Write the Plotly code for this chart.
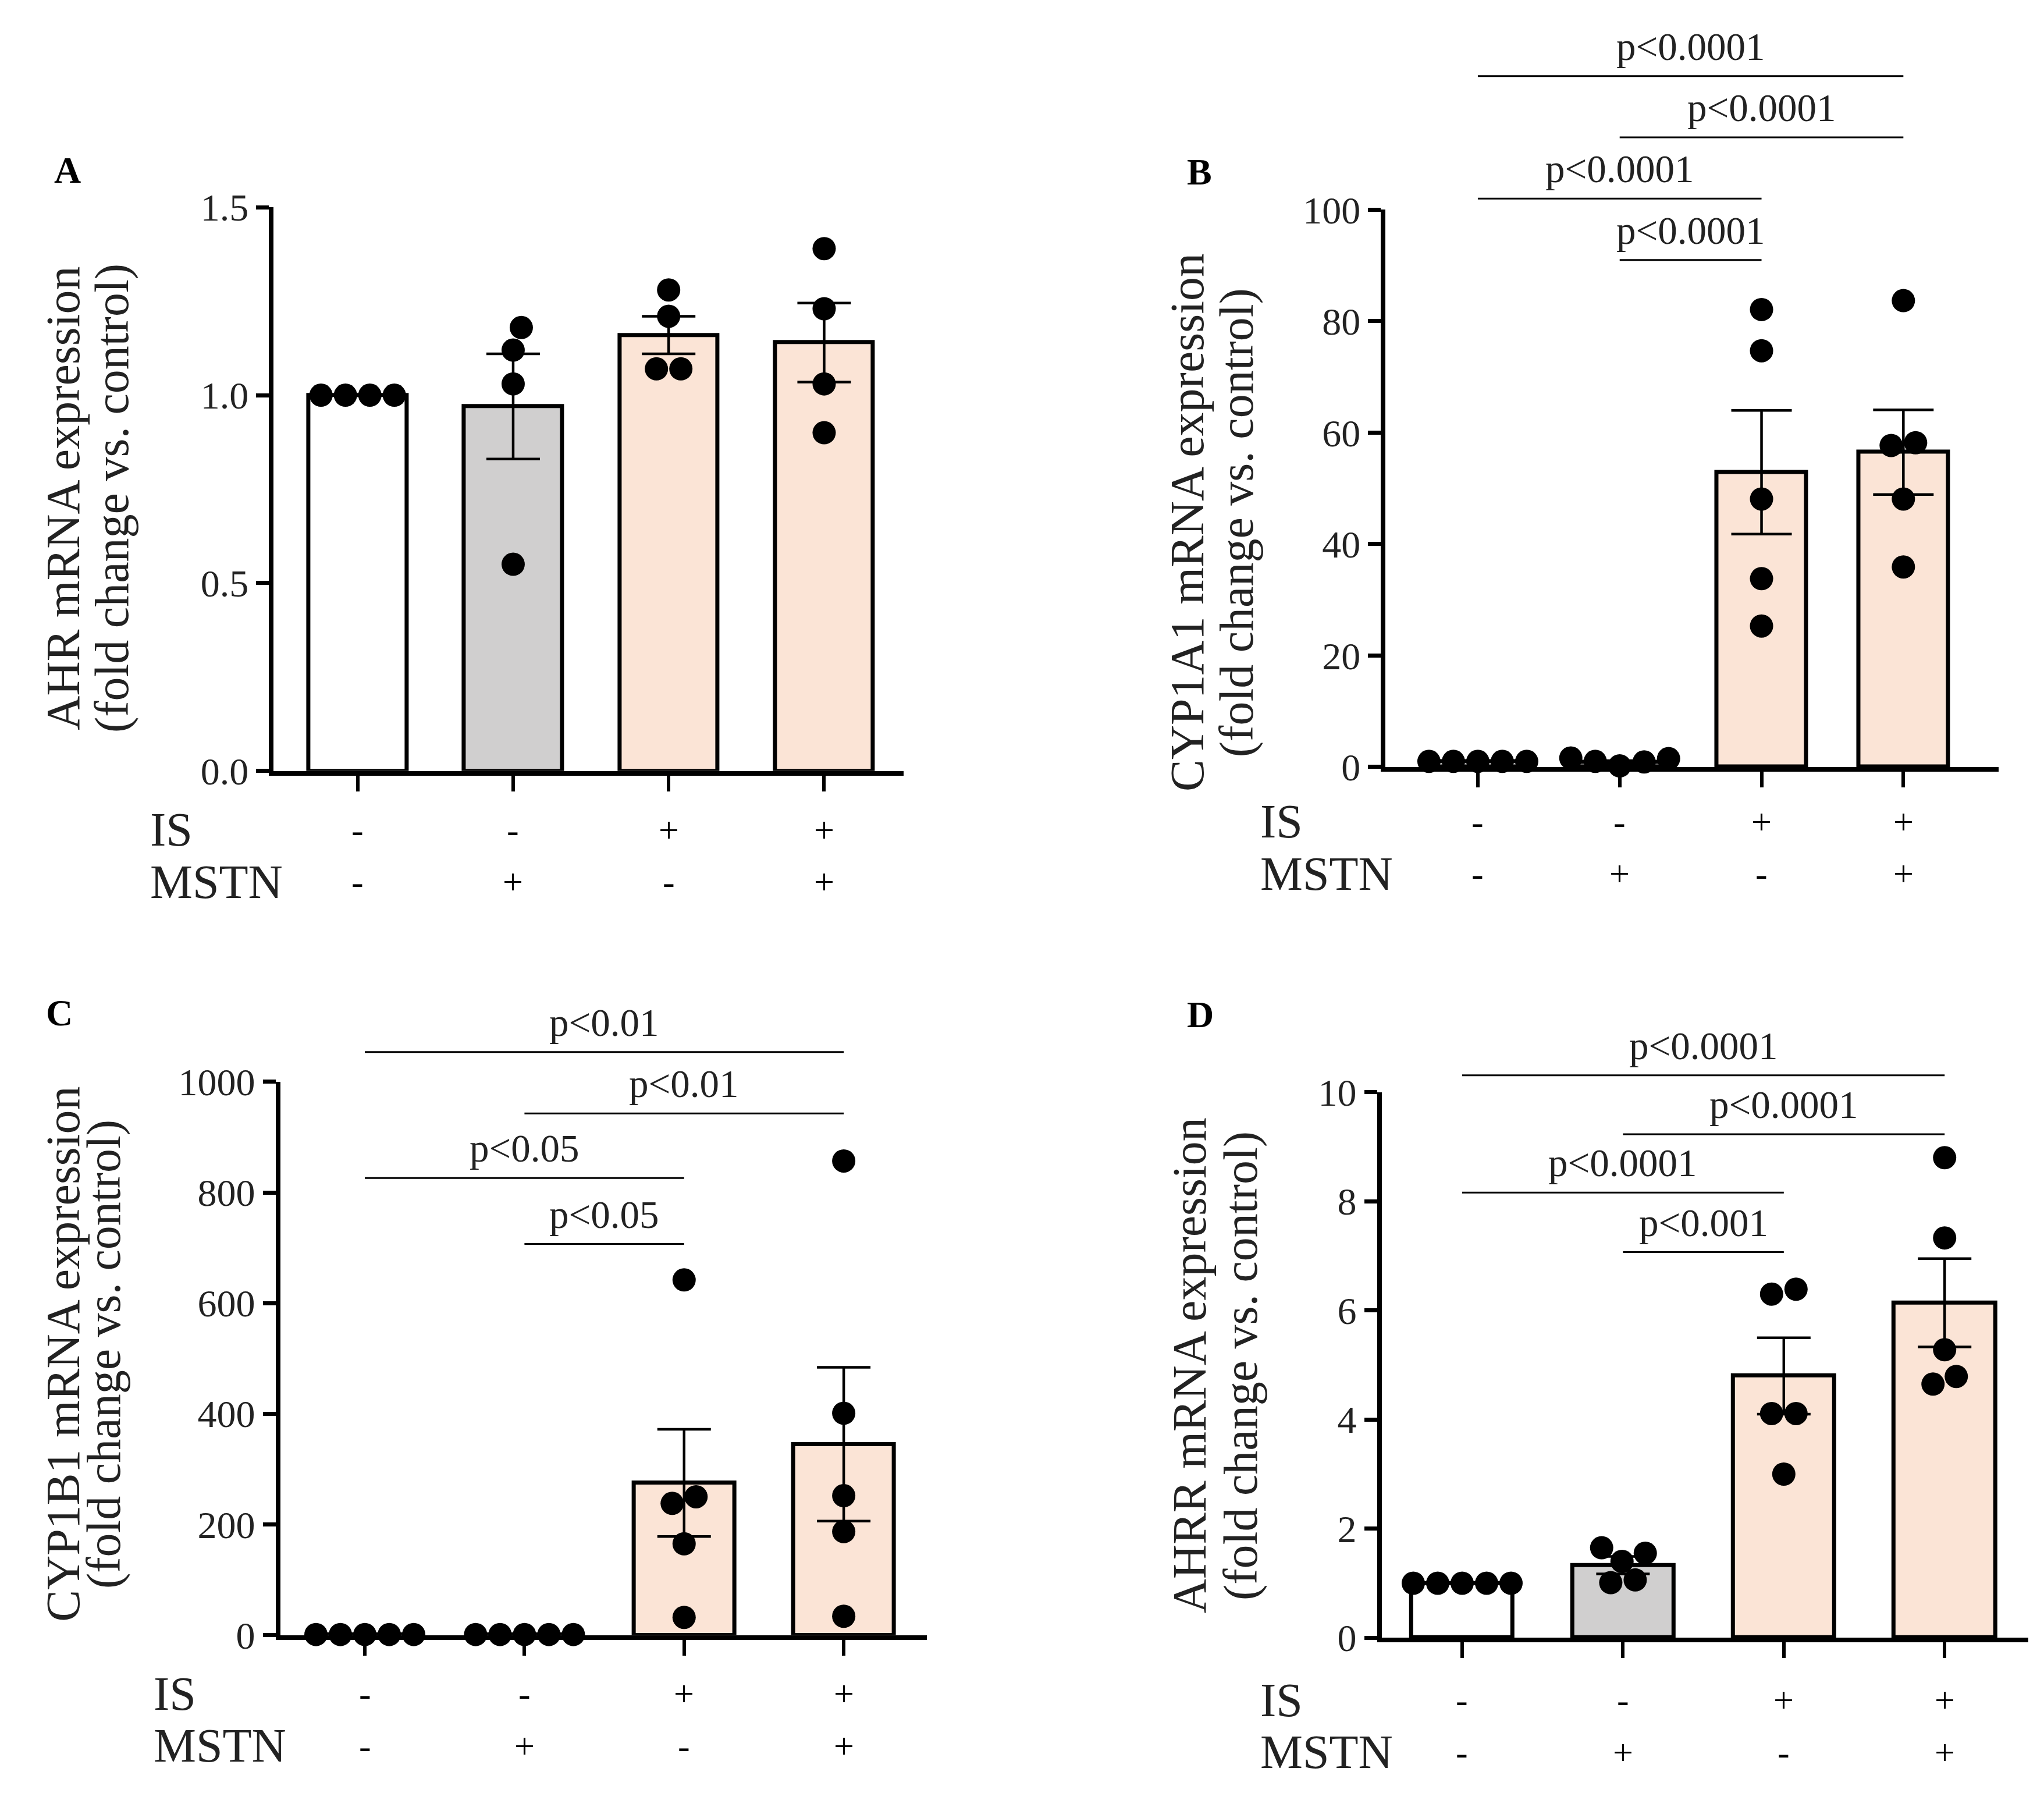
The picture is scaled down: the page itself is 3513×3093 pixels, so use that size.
import numpy as np
import plotly.graph_objects as go

W, H = 3513, 3093
FONT = 'Liberation Serif'

# ---- data ----
IS_ROW = ['-', '-', '+', '+']
MSTN_ROW = ['-', '+', '-', '+']
BAR_COLORS = ['#ffffff', '#d0cfcf', '#fbe4d6', '#fbe4d6']

AHR_MEAN = [1.00, 0.97, 1.16, 1.14]
AHR_SEM = [0.0, 0.14, 0.05, 0.105]
AHR_DOTS = [[1.0, 1.0, 1.0, 1.0],
            [1.18, 1.12, 1.03, 0.55],
            [1.28, 1.21, 1.07, 1.07],
            [1.39, 1.23, 1.03, 0.90]]
AHR_TICKS = [0, 0.5, 1.0, 1.5]

CYP1A1_MEAN = [1.0, 0.9, 52.9, 56.5]
CYP1A1_SEM = [0.0, 0.25, 11.1, 7.6]
CYP1A1_DOTS = [[1.0, 1.0, 1.0, 1.0, 1.0],
               [0.9, 1.6, 1.0, 1.5, 0.2],
               [82.1, 74.7, 48.1, 33.8, 25.3],
               [83.7, 58.2, 57.7, 48.1, 35.9]]
CYP1A1_TICKS = [0, 20, 40, 60, 80, 100]
CYP1A1_SIG = [(0, 3, 124, 'p<0.0001'), (1, 3, 113, 'p<0.0001'),
              (0, 2, 102, 'p<0.0001'), (1, 2, 91, 'p<0.0001')]

CYP1B1_MEAN = [1.0, 1.0, 275, 345]
CYP1B1_SEM = [0.0, 0.0, 97, 139]
CYP1B1_DOTS = [[1.0, 1.0, 1.0, 1.0, 1.0],
               [1.0, 1.0, 1.0, 1.0, 1.0],
               [642, 238, 250, 165, 32],
               [857, 401, 252, 187, 34]]
CYP1B1_TICKS = [0, 200, 400, 600, 800, 1000]
CYP1B1_SIG = [(0, 3, 1054, 'p<0.01'), (1, 3, 943, 'p<0.01'),
              (0, 2, 826, 'p<0.05'), (1, 2, 707, 'p<0.05')]

AHRR_MEAN = [1.0, 1.33, 4.80, 6.14]
AHRR_SEM = [0.0, 0.16, 0.70, 0.81]
AHRR_DOTS = [[1.0, 1.0, 1.0, 1.0, 1.0],
             [1.55, 1.01, 1.40, 1.65, 1.06],
             [6.39, 6.30, 4.11, 4.11, 3.0],
             [8.80, 7.33, 5.28, 4.65, 4.79]]
AHRR_TICKS = [0, 2, 4, 6, 8, 10]
AHRR_SIG = [(0, 3, 10.31, 'p<0.0001'), (1, 3, 9.23, 'p<0.0001'),
            (0, 2, 8.16, 'p<0.0001'), (1, 2, 7.07, 'p<0.001')]

# ---- layout of the four panels (paper fractions) ----
panels = [
    dict(letter='A', gene='AHR', mean=AHR_MEAN, sem=AHR_SEM, dots=AHR_DOTS, ticks=AHR_TICKS,
         sig=[], fmt='.1f', xdom=(0.1339, 0.4420), xr=(-0.54, 3.51), ydom=(0.5717, 0.8855),
         ext=1.5, cap=46, letter_xy=(0.026, 0.906), title_x=(0.031, 0.055), title_y=0.7236,
         row_x=0.073, row_y=(0.539, 0.510)),
    dict(letter='B', gene='CYP1A1', mean=CYP1A1_MEAN, sem=CYP1A1_SEM, dots=CYP1A1_DOTS,
         ticks=CYP1A1_TICKS, sig=CYP1A1_SIG, fmt='d', xdom=(0.6779, 0.9777), xr=(-0.65, 3.67),
         ydom=(0.5739, 0.8841), ext=134, cap=52, letter_xy=(0.580, 0.905),
         title_x=(0.581, 0.605), title_y=0.710, row_x=0.616, row_y=(0.5435, 0.5145)),
    dict(letter='C', gene='CYP1B1', mean=CYP1B1_MEAN, sem=CYP1B1_SEM, dots=CYP1B1_DOTS,
         ticks=CYP1B1_TICKS, sig=CYP1B1_SIG, fmt='d', xdom=(0.1371, 0.4534), xr=(-0.53, 3.52),
         ydom=(0.0906, 0.3986), ext=1165, cap=46, letter_xy=(0.022, 0.437),
         title_x=(0.031, 0.051), title_y=0.247, row_x=0.0745, row_y=(0.058, 0.029)),
    dict(letter='D', gene='AHRR', mean=AHRR_MEAN, sem=AHRR_SEM, dots=AHRR_DOTS, ticks=AHRR_TICKS,
         sig=AHRR_SIG, fmt='d', xdom=(0.6760, 0.9923), xr=(-0.5, 3.52), ydom=(0.0891, 0.3928),
         ext=11.4, cap=46, letter_xy=(0.580, 0.436), title_x=(0.582, 0.607), title_y=0.2406,
         row_x=0.616, row_y=(0.0545, 0.0255)),
]

DOT = 40      # marker diameter, px
BAR_W = 0.63
VSTRETCH = 1.022   # vertical spread about the page middle


def Y(f):
    return 0.5 + (f - 0.5) * VSTRETCH


def swarm(vals, ypx, xpx, d=DOT + 2):
    """GraphPad-like scatter: spread overlapping points sideways, returns x offsets (data units)."""
    order = np.argsort(vals)
    placed = []
    off = np.zeros(len(vals))
    for k in order:
        y = vals[k] * ypx
        cands = [0.0] + [s * t for t in np.arange(1, 400) for s in (1, -1)]
        for dx in cands:
            if all((dx - px) ** 2 + (y - py) ** 2 >= d * d - 1e-6 for px, py in placed):
                break
        placed.append((dx, y))
        off[k] = dx
    # re-centre points sitting on (almost) the same level
    ys = np.array([p[1] for p in placed])
    idx = list(order)
    groups, cur = [], [0]
    for i in range(1, len(idx)):
        if ys[i] - ys[i - 1] < d * 0.5:
            cur.append(i)
        else:
            groups.append(cur)
            cur = [i]
    groups.append(cur)
    for g in groups:
        if len(g) > 1:
            ks = [idx[i] for i in g]
            off[ks] -= off[ks].mean()
    return off / xpx


fig = go.Figure()
annos = []
lay = {}
for i, p in enumerate(panels):
    n = i + 1
    xa, ya, ye = f'x{n if n > 1 else ""}', f'y{n if n > 1 else ""}', f'y{n + 4}'
    ymax = p['ticks'][-1]
    d0, d1 = Y(p['ydom'][0]), Y(p['ydom'][1])
    ext = p['ext']
    ext_top = d0 + (d1 - d0) * ext / ymax
    if ext_top > 0.999:
        ext_top = 0.999
        ext = (ext_top - d0) / (d1 - d0) * ymax
    xpx = (p['xdom'][1] - p['xdom'][0]) * W / (p['xr'][1] - p['xr'][0])
    ypx = (d1 - d0) * H / ymax

    lay[f'xaxis{n if n > 1 else ""}'] = dict(
        domain=list(p['xdom']), range=list(p['xr']), anchor=ya, showline=True, linewidth=8,
        linecolor='black', tickvals=[0, 1, 2, 3], ticks='outside', ticklen=27, tickwidth=6,
        tickcolor='black', showticklabels=False, showgrid=False, zeroline=False, fixedrange=True)
    lay[f'yaxis{n if n > 1 else ""}'] = dict(
        domain=[d0, d1], range=[0, ymax], anchor=xa, showline=True, linewidth=8,
        linecolor='black', tickvals=p['ticks'], tickformat=p['fmt'], ticks='outside', ticklen=22,
        tickwidth=7, tickcolor='black', tickfont=dict(family=FONT, size=66, color='#222'),
        showgrid=False, zeroline=False, fixedrange=True)
    lay[f'yaxis{n + 4}'] = dict(domain=[d0, ext_top], range=[0, ext], anchor=xa,
                                visible=False, fixedrange=True)

    fig.add_trace(go.Bar(x=[0, 1, 2, 3], y=p['mean'], width=BAR_W,
                         marker=dict(color=BAR_COLORS, line=dict(color='black', width=7)),
                         error_y=dict(type='data', array=p['sem'], symmetric=True, color='black',
                                      thickness=4.5, width=p['cap']),
                         xaxis=xa, yaxis=ya, showlegend=False))
    for c, vals in enumerate(p['dots']):
        v = np.array(vals, dtype=float)
        fig.add_trace(go.Scatter(x=c + swarm(v, ypx, xpx), y=v, mode='markers',
                                 marker=dict(color='black', size=DOT), cliponaxis=False,
                                 xaxis=xa, yaxis=ya, showlegend=False))

    for a, b, lvl, txt in p['sig']:
        fig.add_trace(go.Scatter(x=[a, b], y=[lvl, lvl], mode='lines',
                                 line=dict(color='black', width=3), xaxis=xa, yaxis=ye,
                                 showlegend=False))
        annos.append(dict(x=(a + b) / 2, y=lvl, xref=xa, yref=ye, text=txt, showarrow=False,
                          xanchor='center', yanchor='bottom', yshift=12,
                          font=dict(family=FONT, size=67, color='#222')))

    annos.append(dict(x=p['letter_xy'][0], y=Y(p['letter_xy'][1]), xref='paper', yref='paper',
                      text=f"<b>{p['letter']}</b>", showarrow=False, xanchor='left',
                      yanchor='middle', font=dict(family=FONT, size=64, color='black')))
    for tx, line in zip(p['title_x'], [f"{p['gene']} mRNA expression", '(fold change vs. control)']):
        annos.append(dict(x=tx, y=Y(p['title_y']), xref='paper', yref='paper', text=line,
                          textangle=-90, showarrow=False, xanchor='center', yanchor='middle',
                          font=dict(family=FONT, size=82, color='#222')))
    for ry, name, signs in zip(p['row_y'], ['IS', 'MSTN'], [IS_ROW, MSTN_ROW]):
        annos.append(dict(x=p['row_x'], y=Y(ry), xref='paper', yref='paper', text=name,
                          showarrow=False, xanchor='left', yanchor='middle',
                          font=dict(family=FONT, size=82, color='#222')))
        for c, s in enumerate(signs):
            annos.append(dict(x=c, y=Y(ry), xref=xa, yref='paper', text=s, showarrow=False,
                              xanchor='center', yanchor='middle',
                              font=dict(family=FONT, size=62, color='black')))

fig.update_layout(width=W, height=H, margin=dict(l=0, r=0, t=0, b=0),
                  paper_bgcolor='white', plot_bgcolor='rgba(0,0,0,0)', annotations=annos,
                  bargap=0, **lay)
fig.write_html("out.html", config={'displayModeBar': False},
               post_script="document.body.style.margin='0';")
